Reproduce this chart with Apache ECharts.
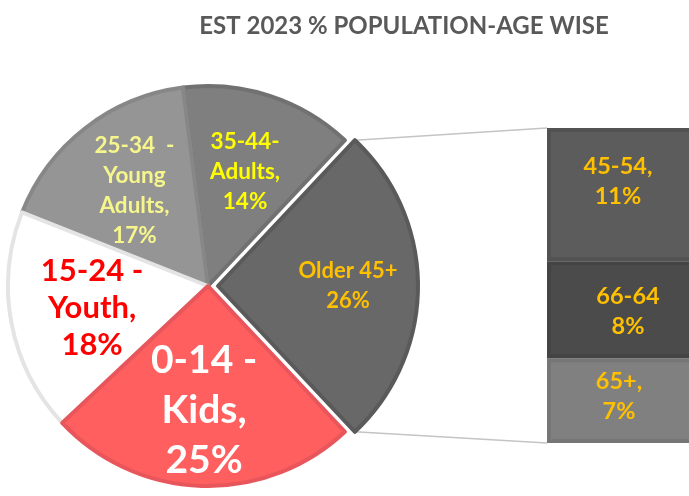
<!DOCTYPE html>
<html>
<head>
<meta charset="utf-8">
<script src="https://cdn.jsdelivr.net/npm/echarts@6/dist/echarts.min.js"></script>
<style>
  html, body { margin: 0; padding: 0; background: #fff; overflow: hidden; }
  /* the bar runs off the right edge of the picture, so the canvas is a bit wider than the window */
  #chart { width: 710px; height: 496px; }
</style>
</head>
<body>
<div id="chart"></div>
<script>
// pie: counter-clockwise from the top edge of the "Older" slice
const pieNames = ['35-44-\nAdults,', '25-34  -\nYoung\nAdults,', '15-24 -\nYouth,', '0-14 -\nKids,', 'Older 45+'];
const pieValues = [14, 17, 18, 25, 26];
const pieColors = ['#7f7f7f', '#959595', '#ffffff', '#ff5f5f', '#686868'];
const pieBorders = ['#717171', '#878787', '#e4e4e4', '#e8565b', '#5a5a5a'];
const pieLabelColors = ['#ffff00', '#f6f68c', '#ff0000', '#ffffff', '#ffc000'];
const pieLabelSizes = [22.5, 22.5, 31, 39, 22];
const pieLabelLines = [30, 30, 37, 50, 30];
const pieLabelDist = [0.6, 0.6, 0.59, 0.62, 0.65];

// breakdown of "Older 45+" (bottom to top)
const barNames = ['65+,', '66-64', '45-54,'];
const barValues = [7, 8, 11];
const barColors = ['#808080', '#4b4b4b', '#5c5c5c'];
const barBorders = ['#767676', '#444444', '#525252'];
const barLabelOffsets = [[-3, -4], [6, 2], [-4, -13]];

const chart = echarts.init(document.getElementById('chart'));

const center = [208, 286];
const radius = 200;
const explode = 10;
const total = pieValues.reduce((a, b) => a + b, 0);
const olderIndex = pieValues.length - 1;
const startAngle = (pieValues[olderIndex] / total) * 180;
const barTotal = barValues.reduce((a, b) => a + b, 0);
const gridLeft = 547;

function midAngle(i) {
  let before = 0;
  for (let k = 0; k < i; k++) before += pieValues[k];
  return ((startAngle + ((before + pieValues[i] / 2) / total) * 360) * Math.PI) / 180;
}

// one pie for the main slices, one (shifted right) for the exploded slice
function pieSeries(cx, visible) {
  return {
    type: 'pie',
    center: [cx, center[1]],
    radius: radius,
    startAngle: startAngle,
    clockwise: false,
    emphasis: { disabled: true },
    silent: true,
    data: pieValues.map((v, i) => ({
      name: pieNames[i],
      value: v,
      itemStyle: visible(i)
        ? { color: pieColors[i], borderColor: pieBorders[i], borderWidth: 4 }
        : { color: 'transparent', borderWidth: 0 },
      label: {
        show: visible(i),
        color: pieLabelColors[i],
        fontSize: pieLabelSizes[i],
        lineHeight: pieLabelLines[i]
      }
    })),
    label: {
      position: 'inside',
      fontFamily: 'Lato',
      fontWeight: 'bold',
      align: 'center',
      formatter: (p) => p.name + '\n' + p.value + '%'
    },
    labelLine: { show: false },
    labelLayout: (params) => {
      const i = params.dataIndex;
      const a = midAngle(i);
      const d = radius * pieLabelDist[i];
      return {
        x: cx + d * Math.cos(a),
        y: center[1] - d * Math.sin(a)
      };
    }
  };
}

chart.setOption({
  animation: false,
  title: {
    text: 'EST 2023 % POPULATION-AGE WISE',
    left: 399,
    textAlign: 'center',
    top: 9,
    textStyle: {
      fontFamily: 'Lato',
      fontWeight: 'bold',
      fontSize: 24,
      color: '#595959'
    }
  },
  grid: {
    left: gridLeft,
    top: 128,
    height: 315,
    width: 150
  },
  xAxis: {
    type: 'category',
    data: [''],
    show: false
  },
  yAxis: {
    type: 'value',
    min: 0,
    max: barTotal,
    show: false
  },
  series: [
    pieSeries(center[0], (i) => i !== olderIndex),
    pieSeries(center[0] + explode, (i) => i === olderIndex),
    ...barValues.map((v, i) => ({
      type: 'bar',
      name: barNames[i],
      stack: 'older',
      barWidth: '100%',
      data: [v],
      emphasis: { disabled: true },
      itemStyle: {
        color: barColors[i],
        borderColor: barBorders[i],
        borderWidth: 4
      },
      label: {
        show: true,
        position: 'inside',
        offset: barLabelOffsets[i],
        fontFamily: 'Lato',
        fontWeight: 'bold',
        fontSize: 23.5,
        lineHeight: 30,
        color: '#ffc000',
        formatter: (p) => p.seriesName + '\n' + p.value + '%'
      }
    }))
  ]
});

// connector lines from the exploded slice to the bar
const edge = (startAngle * Math.PI) / 180;
const tipX = center[0] + explode + radius * Math.cos(edge);
const tipDy = radius * Math.sin(edge);
const yTop = chart.convertToPixel({ yAxisIndex: 0 }, barTotal);
const yBottom = chart.convertToPixel({ yAxisIndex: 0 }, 0);

chart.setOption({
  graphic: [
    {
      type: 'line',
      shape: { x1: tipX, y1: center[1] - tipDy, x2: gridLeft, y2: yTop },
      style: { stroke: '#c4c4c4', lineWidth: 1.5 },
      z: 0
    },
    {
      type: 'line',
      shape: { x1: tipX, y1: center[1] + tipDy, x2: gridLeft, y2: yBottom },
      style: { stroke: '#c4c4c4', lineWidth: 1.5 },
      z: 0
    }
  ]
});
</script>
</body>
</html>
